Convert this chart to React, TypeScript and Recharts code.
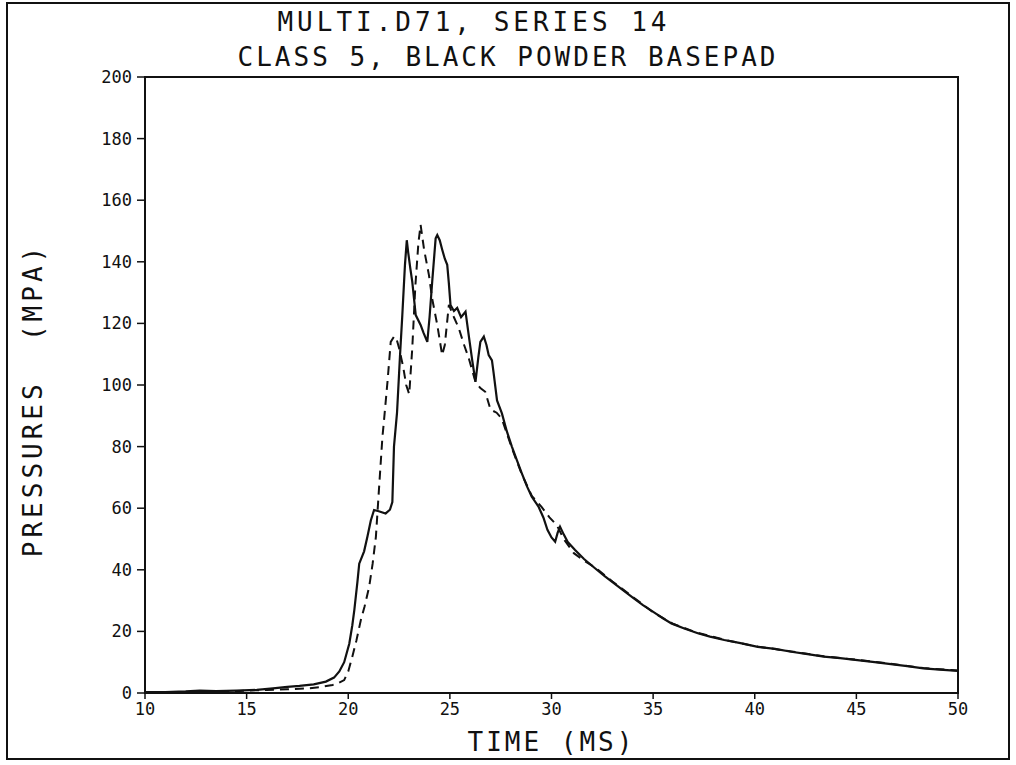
import React from 'react';
import { LineChart, Line, XAxis, YAxis, ReferenceArea } from 'recharts';

const titleLines = ['MULTI.D71, SERIES 14', 'CLASS 5, BLACK POWDER BASEPAD'];
const xTitle = 'TIME (MS)';
const yTitle = 'PRESSURES  (MPA)';
const xTicks = [10, 15, 20, 25, 30, 35, 40, 45, 50];
const yTicks = [0, 20, 40, 60, 80, 100, 120, 140, 160, 180, 200];

const solidTime = [
  10, 11, 12, 12.7, 13.5, 14.5, 15.5, 16.3, 17, 17.6, 18.3, 18.9, 19.3, 19.56, 19.8, 20.05, 20.2, 20.3, 20.45, 20.54,
  20.78, 20.95, 21.11, 21.27, 21.5, 21.84, 22.05, 22.17, 22.25, 22.4, 22.55, 22.66, 22.79, 22.88, 22.95, 23.05, 23.15,
  23.32, 23.56, 23.7, 23.89, 24.0, 24.13, 24.3, 24.38, 24.5, 24.62, 24.75, 24.87, 24.95, 25.03, 25.2, 25.36, 25.55,
  25.77, 25.93, 26.1, 26.26, 26.4, 26.5, 26.67, 26.8, 26.91, 27.07, 27.15, 27.32, 27.56, 27.8, 28.05, 28.3, 28.54, 28.8,
  29.03, 29.36, 29.6, 29.8, 30.0, 30.18, 30.3, 30.42, 30.6, 30.8, 31.16, 31.6, 32.14, 32.6, 33.0, 33.5, 34.0, 34.5,
  35.08, 35.5, 35.9, 36.5, 37.2, 37.8, 38.5, 39.3, 40.15, 41.0, 41.8, 42.6, 43.4, 44.2, 45.05, 45.9, 46.7, 47.5, 48.3,
  49.1, 50,
];
const solidPressure = [
  0.3, 0.3, 0.5, 0.8, 0.6, 0.8, 1.0, 1.5, 2.0, 2.3, 2.8, 3.7, 5, 7, 10, 16, 22, 27, 36, 42,
  46, 51, 56, 59.4, 59, 58.3, 59.5, 62, 80, 91, 110, 122.7, 139, 147, 143, 138, 133.5,
  122.7, 119.5, 117, 114, 122, 133.5, 147.6, 148.7, 147, 144, 141, 139, 133, 126, 124, 125, 122,
  123.8, 116, 108, 101, 109, 114, 115.7, 113, 109.7, 108, 104, 95, 90.8, 85, 80, 75.5, 71.3, 67,
  63.7, 60.5, 57, 53, 50.5, 49.1, 52, 54, 51.5, 49, 46.4, 43.5, 40.5, 38, 36, 33.5, 31, 28.5,
  26, 24.2, 22.6, 21, 19.4, 18.3, 17.2, 16.2, 15, 14.3, 13.4, 12.6, 11.8, 11.3, 10.7, 10, 9.4, 8.7, 8,
  7.6, 7.2,
];

const dashedTime = [
  10, 12, 13, 14, 15, 16, 17, 18, 18.7, 19.23, 19.5, 19.8, 20.0, 20.2, 20.4, 20.62, 20.8, 21.03, 21.2, 21.36,
  21.52, 21.68, 21.76, 21.93, 22.09, 22.25, 22.35, 22.5, 22.7, 22.85, 23.0, 23.15, 23.3, 23.45, 23.56, 23.73, 23.97,
  24.13, 24.38, 24.62, 24.75, 24.95, 25.2, 25.44, 25.7, 25.93, 26.26, 26.5, 26.74, 27.0, 27.3, 27.56, 28.05, 28.54,
  29.03, 29.5, 29.9, 30.26, 30.6, 31.1, 31.6, 32.14, 33.0, 34.0, 35.0, 36.0, 37.2, 38.5, 40.0, 41.8, 43.4, 45.0, 46.7,
  48.3, 50,
];
const dashedPressure = [
  0.2, 0.3, 0.5, 0.4, 0.8, 1.0, 1.2, 1.5, 2.0, 2.6, 3.2, 4.2, 7, 11.8, 17, 23.7, 28, 34.5, 42, 50.7,
  67, 83, 88.6, 101, 114, 115.7, 115.5, 112, 106, 100, 97, 112, 132, 146, 152, 144, 135.7,
  128, 119.5, 109.7, 113, 126, 122, 118.4, 113, 108.7, 101, 99, 97.8, 92, 91, 89, 79.5, 71,
  64, 60.5, 57, 54.5, 50, 45.4, 43, 40.8, 36.2, 31.2, 26.2, 22.4, 19.5, 17.3, 15.2, 13.5, 11.9, 10.8, 9.5,
  8.1, 7.3,
];

const solidData = solidTime.map((t, i) => ({ t, p: solidPressure[i] }));
const dashedData = dashedTime.map((t, i) => ({ t, p: dashedPressure[i] }));

const FONT = '"DejaVu Sans Mono", "Liberation Mono", monospace';
const titleShift = [-34, 0];

export default function App() {
  return (
    <div style={{ position: 'absolute', left: 0, top: 0, width: 1016, height: 765, background: '#fff', overflow: 'hidden' }}>
      <div
        style={{
          position: 'absolute', left: 6, top: 2, width: 1004, height: 758,
          border: '2px solid #111', boxSizing: 'border-box',
        }}
      />
      <div style={{ position: 'absolute', left: 0, top: 0 }}>
        <LineChart width={1016} height={765} margin={{ top: 77, right: 58, bottom: 22, left: 75 }}>
          <XAxis
            dataKey="t"
            type="number"
            domain={[10, 50]}
            ticks={xTicks}
            allowDataOverflow
            tickSize={6}
            tickMargin={4}
            axisLine={{ stroke: '#111', strokeWidth: 2 }}
            tickLine={{ stroke: '#111', strokeWidth: 1.5 }}
            tick={{ fill: '#111', fontSize: 17, fontFamily: FONT }}
            height={50}
          />
          <YAxis
            dataKey="p"
            type="number"
            domain={[0, 200]}
            ticks={yTicks}
            allowDataOverflow
            tickSize={8}
            tickMargin={5}
            axisLine={{ stroke: '#111', strokeWidth: 2 }}
            tickLine={{ stroke: '#111', strokeWidth: 1.5 }}
            tick={{ fill: '#111', fontSize: 17, fontFamily: FONT }}
            width={70}
          />
          <ReferenceArea x1={10} x2={50} y1={0} y2={200} fill="none" stroke="#111" strokeWidth={2} />
          <Line
            data={dashedData}
            dataKey="p"
            type="linear"
            stroke="#111"
            strokeWidth={2}
            strokeDasharray="9 6"
            dot={false}
            isAnimationActive={false}
          />
          <Line
            data={solidData}
            dataKey="p"
            type="linear"
            stroke="#111"
            strokeWidth={2.2}
            dot={false}
            isAnimationActive={false}
          />
        </LineChart>
      </div>
      {titleLines.map((line, i) => (
        <div
          key={i}
          style={{
            position: 'absolute', left: titleShift[i], width: 1016, top: 6 + i * 35, textAlign: 'center',
            fontFamily: FONT, fontSize: 26, letterSpacing: i === 0 ? 4 : 3, color: '#111', lineHeight: '32px',
          }}
        >
          {line}
        </div>
      ))}
      <div
        style={{
          position: 'absolute', left: 145, width: 813, top: 726, textAlign: 'center',
          fontFamily: FONT, fontSize: 26, letterSpacing: 3, color: '#111', lineHeight: '32px',
        }}
      >
        {xTitle}
      </div>
      <div
        style={{
          position: 'absolute', left: 33, top: 400, transform: 'translate(-50%, -50%) rotate(-90deg)',
          whiteSpace: 'pre', fontFamily: FONT, fontSize: 26, letterSpacing: 4, color: '#111', lineHeight: '32px',
        }}
      >
        {yTitle}
      </div>
    </div>
  );
}
